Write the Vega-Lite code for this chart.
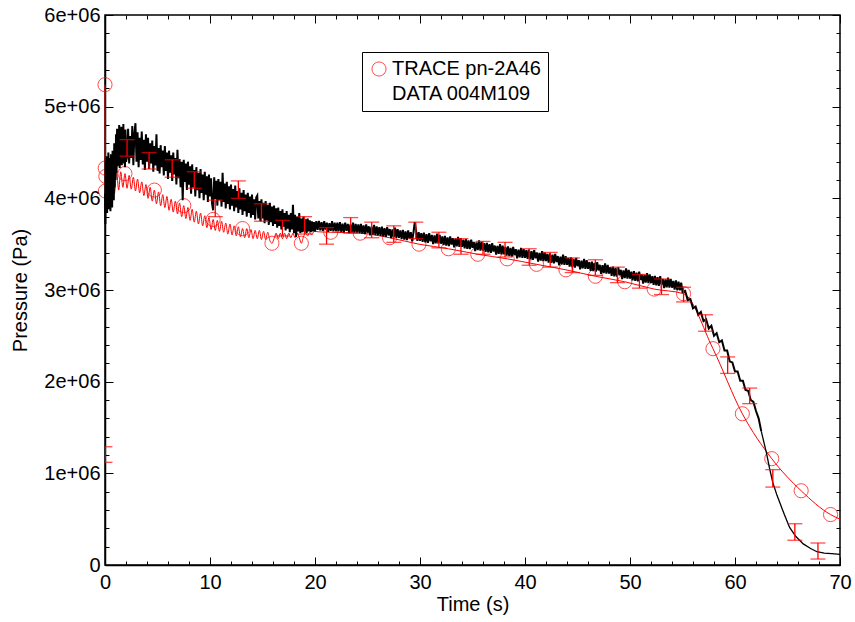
{
  "$schema": "https://vega.github.io/schema/vega-lite/v6.json",
  "width": 735,
  "height": 550,
  "autosize": "none",
  "padding": {"left": 105, "top": 15, "right": 15, "bottom": 57},
  "background": "white",
  "config": {
    "view": {"stroke": "black", "strokeWidth": 1.5},
    "axis": {"labelFont": "Liberation Sans", "labelFontSize": 20, "titleFont": "Liberation Sans", "titleFontSize": 20, "titleFontWeight": "normal", "labelColor": "black", "titleColor": "black", "tickColor": "black", "domainColor": "black", "domainWidth": 1.5, "tickWidth": 1, "grid": false, "labelOverlap": false, "labelFlush": false}
  },
  "datasets": {
    "trace": [
      {"t": 0, "p": 5.24e6}, {"t": 0.02, "p": 4.33e6}, {"t": 0.04, "p": 4.08e6}, {"t": 0.08, "p": 4.24e6},
      {"t": 0.3, "p": 4.31e6}, {"t": 0.5, "p": 4.03e6}, {"t": 0.7, "p": 4.31e6}, {"t": 0.9, "p": 4.05e6},
      {"t": 1.1, "p": 4.30e6}, {"t": 1.3, "p": 4.09e6}, {"t": 1.5, "p": 4.29e6}, {"t": 1.7, "p": 4.12e6},
      {"t": 1.9, "p": 4.27e6}, {"t": 2.1, "p": 4.11e6}, {"t": 2.3, "p": 4.25e6}, {"t": 2.5, "p": 4.10e6},
      {"t": 2.7, "p": 4.23e6}, {"t": 2.9, "p": 4.08e6}, {"t": 3.1, "p": 4.21e6}, {"t": 3.3, "p": 4.06e6},
      {"t": 3.5, "p": 4.18e6}, {"t": 3.7, "p": 4.03e6}, {"t": 3.9, "p": 4.15e6}, {"t": 4.1, "p": 4.00e6},
      {"t": 4.3, "p": 4.12e6}, {"t": 4.5, "p": 3.97e6}, {"t": 4.7, "p": 4.09e6}, {"t": 4.9, "p": 3.94e6},
      {"t": 5.1, "p": 4.07e6}, {"t": 5.3, "p": 3.92e6}, {"t": 5.5, "p": 4.04e6}, {"t": 5.7, "p": 3.90e6},
      {"t": 5.9, "p": 4.02e6}, {"t": 6.1, "p": 3.87e6}, {"t": 6.3, "p": 3.99e6}, {"t": 6.5, "p": 3.85e6},
      {"t": 6.7, "p": 3.97e6}, {"t": 6.9, "p": 3.83e6}, {"t": 7.1, "p": 3.95e6}, {"t": 7.3, "p": 3.80e6},
      {"t": 7.5, "p": 3.92e6}, {"t": 7.7, "p": 3.78e6}, {"t": 7.9, "p": 3.90e6}, {"t": 8.1, "p": 3.76e6},
      {"t": 8.3, "p": 3.88e6}, {"t": 8.5, "p": 3.74e6}, {"t": 8.7, "p": 3.86e6}, {"t": 8.9, "p": 3.72e6},
      {"t": 9.1, "p": 3.84e6}, {"t": 9.3, "p": 3.70e6}, {"t": 9.5, "p": 3.81e6}, {"t": 9.7, "p": 3.68e6},
      {"t": 9.9, "p": 3.79e6}, {"t": 10.1, "p": 3.66e6}, {"t": 10.3, "p": 3.77e6}, {"t": 10.5, "p": 3.65e6},
      {"t": 10.7, "p": 3.76e6}, {"t": 10.9, "p": 3.64e6}, {"t": 11.1, "p": 3.75e6}, {"t": 11.3, "p": 3.63e6},
      {"t": 11.5, "p": 3.73e6}, {"t": 11.7, "p": 3.61e6}, {"t": 11.9, "p": 3.72e6}, {"t": 12.1, "p": 3.60e6},
      {"t": 12.3, "p": 3.70e6}, {"t": 12.5, "p": 3.59e6}, {"t": 12.7, "p": 3.69e6}, {"t": 12.9, "p": 3.58e6},
      {"t": 13.1, "p": 3.67e6}, {"t": 13.3, "p": 3.57e6}, {"t": 13.5, "p": 3.67e6}, {"t": 13.7, "p": 3.57e6},
      {"t": 13.9, "p": 3.66e6}, {"t": 14.1, "p": 3.56e6}, {"t": 14.3, "p": 3.65e6}, {"t": 14.5, "p": 3.56e6},
      {"t": 14.7, "p": 3.65e6}, {"t": 14.9, "p": 3.55e6}, {"t": 15.1, "p": 3.64e6}, {"t": 15.3, "p": 3.55e6},
      {"t": 15.5, "p": 3.63e6}, {"t": 15.7, "p": 3.54e6}, {"t": 15.9, "p": 3.51e6}, {"t": 16.1, "p": 3.56e6},
      {"t": 16.3, "p": 3.62e6}, {"t": 16.5, "p": 3.56e6}, {"t": 16.7, "p": 3.62e6}, {"t": 16.9, "p": 3.56e6},
      {"t": 17.1, "p": 3.62e6}, {"t": 17.3, "p": 3.56e6}, {"t": 17.5, "p": 3.62e6}, {"t": 17.7, "p": 3.57e6},
      {"t": 17.9, "p": 3.62e6}, {"t": 18.1, "p": 3.57e6}, {"t": 18.3, "p": 3.62e6}, {"t": 18.5, "p": 3.57e6},
      {"t": 18.7, "p": 3.51e6}, {"t": 18.9, "p": 3.58e6}, {"t": 19.1, "p": 3.62e6}, {"t": 19.3, "p": 3.59e6},
      {"t": 19.5, "p": 3.63e6}, {"t": 19.7, "p": 3.60e6}, {"t": 19.9, "p": 3.64e6}, {"t": 20.3, "p": 3.635e6},
      {"t": 21.5, "p": 3.63e6}, {"t": 24.3, "p": 3.62e6}, {"t": 27.1, "p": 3.57e6}, {"t": 29.9, "p": 3.50e6},
      {"t": 32.7, "p": 3.45e6}, {"t": 35.5, "p": 3.39e6}, {"t": 38.3, "p": 3.34e6}, {"t": 41.1, "p": 3.28e6},
      {"t": 43.9, "p": 3.22e6}, {"t": 46.7, "p": 3.15e6}, {"t": 49.5, "p": 3.09e6}, {"t": 52.3, "p": 3.01e6},
      {"t": 55.1, "p": 2.96e6}, {"t": 57.9, "p": 2.36e6}, {"t": 60.7, "p": 1.65e6}, {"t": 63.5, "p": 1.16e6},
      {"t": 66.3, "p": 0.81e6}, {"t": 69.1, "p": 0.55e6}, {"t": 70, "p": 0.50e6}
    ],
    "markers": [
      {"t": 0, "p": 5.24e6}, {"t": 0.02, "p": 4.33e6}, {"t": 0.04, "p": 4.08e6}, {"t": 0.08, "p": 4.24e6},
      {"t": 1.9, "p": 4.27e6}, {"t": 4.7, "p": 4.09e6}, {"t": 7.5, "p": 3.92e6}, {"t": 10.3, "p": 3.77e6},
      {"t": 13.1, "p": 3.67e6}, {"t": 15.9, "p": 3.51e6}, {"t": 18.7, "p": 3.51e6}, {"t": 21.5, "p": 3.63e6},
      {"t": 24.3, "p": 3.62e6}, {"t": 27.1, "p": 3.57e6}, {"t": 29.9, "p": 3.50e6}, {"t": 32.7, "p": 3.45e6},
      {"t": 35.5, "p": 3.39e6}, {"t": 38.3, "p": 3.34e6}, {"t": 41.1, "p": 3.28e6}, {"t": 43.9, "p": 3.22e6},
      {"t": 46.7, "p": 3.15e6}, {"t": 49.5, "p": 3.09e6}, {"t": 52.3, "p": 3.01e6}, {"t": 55.1, "p": 2.96e6},
      {"t": 57.9, "p": 2.36e6}, {"t": 60.7, "p": 1.65e6}, {"t": 63.5, "p": 1.16e6}, {"t": 66.3, "p": 0.81e6},
      {"t": 69.1, "p": 0.55e6}
    ],
    "measured": [
      {"t": 0.00, "p": 4.05e6}, {"t": 0.04, "p": 3.72e6}, {"t": 0.08, "p": 4.42e6}, {"t": 0.12, "p": 3.90e6},
      {"t": 0.16, "p": 4.46e6}, {"t": 0.20, "p": 3.84e6}, {"t": 0.24, "p": 4.38e6}, {"t": 0.28, "p": 3.96e6},
      {"t": 0.32, "p": 4.50e6}, {"t": 0.36, "p": 3.88e6}, {"t": 0.40, "p": 4.44e6}, {"t": 0.44, "p": 4.02e6},
      {"t": 0.48, "p": 4.36e6}, {"t": 0.52, "p": 3.86e6}, {"t": 0.56, "p": 4.48e6}, {"t": 0.60, "p": 3.95e6},
      {"t": 0.64, "p": 4.30e6}, {"t": 0.68, "p": 3.90e6}, {"t": 0.72, "p": 4.52e6}, {"t": 0.76, "p": 4.05e6},
      {"t": 0.80, "p": 4.45e6}, {"t": 0.84, "p": 3.98e6}, {"t": 0.88, "p": 4.60e6}, {"t": 0.92, "p": 4.12e6},
      {"t": 0.96, "p": 4.55e6}, {"t": 1.00, "p": 4.20e6}, {"t": 1.05, "p": 4.70e6}, {"t": 1.10, "p": 4.28e6},
      {"t": 1.15, "p": 4.76e6}, {"t": 1.20, "p": 4.35e6}, {"t": 1.25, "p": 4.68e6}, {"t": 1.30, "p": 4.40e6},
      {"t": 1.35, "p": 4.80e6}, {"t": 1.40, "p": 4.33e6}, {"t": 1.45, "p": 4.72e6}, {"t": 1.50, "p": 4.42e6},
      {"t": 1.55, "p": 4.78e6}, {"t": 1.60, "p": 4.36e6}, {"t": 1.65, "p": 4.70e6}, {"t": 1.70, "p": 4.45e6},
      {"t": 1.75, "p": 4.81e6}, {"t": 1.80, "p": 4.38e6}, {"t": 1.85, "p": 4.66e6}, {"t": 1.90, "p": 4.34e6},
      {"t": 1.95, "p": 4.75e6}, {"t": 2.00, "p": 4.40e6},
      {"t": 2.1, "p": 4.45e6}, {"t": 2.2, "p": 4.76e6}, {"t": 2.3, "p": 4.38e6}, {"t": 2.4, "p": 4.68e6},
      {"t": 2.5, "p": 4.44e6}, {"t": 2.6, "p": 4.79e6}, {"t": 2.7, "p": 4.36e6}, {"t": 2.8, "p": 4.70e6},
      {"t": 2.9, "p": 4.82e6}, {"t": 3.0, "p": 4.40e6}, {"t": 3.1, "p": 4.72e6}, {"t": 3.2, "p": 4.34e6},
      {"t": 3.3, "p": 4.66e6}, {"t": 3.4, "p": 4.42e6}, {"t": 3.5, "p": 4.73e6}, {"t": 3.6, "p": 4.37e6},
      {"t": 3.7, "p": 4.64e6}, {"t": 3.8, "p": 4.31e6}, {"t": 3.9, "p": 4.70e6}, {"t": 4.0, "p": 4.40e6},
      {"t": 4.1, "p": 4.66e6}, {"t": 4.2, "p": 4.32e6}, {"t": 4.3, "p": 4.60e6}, {"t": 4.4, "p": 4.38e6},
      {"t": 4.5, "p": 4.63e6}, {"t": 4.6, "p": 4.29e6}, {"t": 4.7, "p": 4.57e6}, {"t": 4.8, "p": 4.36e6},
      {"t": 4.9, "p": 4.70e6}, {"t": 5.0, "p": 4.30e6}, {"t": 5.1, "p": 4.55e6}, {"t": 5.2, "p": 4.27e6},
      {"t": 5.3, "p": 4.58e6}, {"t": 5.4, "p": 4.34e6}, {"t": 5.5, "p": 4.52e6}, {"t": 5.6, "p": 4.25e6},
      {"t": 5.7, "p": 4.57e6}, {"t": 5.8, "p": 4.30e6}, {"t": 5.9, "p": 4.50e6}, {"t": 6.0, "p": 4.21e6},
      {"t": 6.1, "p": 4.52e6}, {"t": 6.2, "p": 4.28e6}, {"t": 6.3, "p": 4.47e6}, {"t": 6.4, "p": 4.19e6},
      {"t": 6.5, "p": 4.50e6}, {"t": 6.6, "p": 4.26e6}, {"t": 6.7, "p": 4.44e6}, {"t": 6.8, "p": 4.15e6},
      {"t": 6.9, "p": 4.53e6}, {"t": 7.0, "p": 4.22e6}, {"t": 7.1, "p": 4.43e6}, {"t": 7.2, "p": 4.12e6},
      {"t": 7.3, "p": 4.40e6}, {"t": 7.4, "p": 3.98e6}, {"t": 7.5, "p": 4.42e6}, {"t": 7.6, "p": 4.18e6},
      {"t": 7.7, "p": 4.38e6}, {"t": 7.8, "p": 4.09e6}, {"t": 7.9, "p": 4.40e6}, {"t": 8.0, "p": 4.15e6},
      {"t": 8.1, "p": 4.35e6}, {"t": 8.2, "p": 4.05e6}, {"t": 8.3, "p": 4.37e6}, {"t": 8.4, "p": 4.12e6},
      {"t": 8.5, "p": 4.31e6}, {"t": 8.6, "p": 4.02e6}, {"t": 8.7, "p": 4.34e6}, {"t": 8.8, "p": 4.09e6},
      {"t": 8.9, "p": 4.28e6}, {"t": 9.0, "p": 4.00e6}, {"t": 9.1, "p": 4.32e6}, {"t": 9.2, "p": 4.06e6},
      {"t": 9.3, "p": 4.26e6}, {"t": 9.4, "p": 3.98e6}, {"t": 9.5, "p": 4.29e6}, {"t": 9.6, "p": 4.04e6},
      {"t": 9.7, "p": 4.24e6}, {"t": 9.8, "p": 3.96e6}, {"t": 9.9, "p": 4.26e6}, {"t": 10.0, "p": 4.02e6},
      {"t": 10.1, "p": 4.22e6}, {"t": 10.2, "p": 3.94e6}, {"t": 10.3, "p": 3.87e6}, {"t": 10.4, "p": 4.23e6},
      {"t": 10.5, "p": 3.99e6}, {"t": 10.6, "p": 4.19e6}, {"t": 10.7, "p": 3.92e6}, {"t": 10.8, "p": 4.21e6},
      {"t": 10.9, "p": 3.98e6}, {"t": 11.0, "p": 4.18e6}, {"t": 11.1, "p": 3.91e6}, {"t": 11.2, "p": 4.28e6},
      {"t": 11.3, "p": 3.96e6}, {"t": 11.4, "p": 4.16e6}, {"t": 11.5, "p": 3.89e6}, {"t": 11.6, "p": 4.18e6},
      {"t": 11.7, "p": 3.94e6}, {"t": 11.8, "p": 4.13e6}, {"t": 11.9, "p": 3.88e6}, {"t": 12.0, "p": 4.15e6},
      {"t": 12.1, "p": 3.92e6}, {"t": 12.2, "p": 4.10e6}, {"t": 12.3, "p": 3.86e6}, {"t": 12.4, "p": 4.14e6},
      {"t": 12.5, "p": 3.90e6}, {"t": 12.6, "p": 4.08e6}, {"t": 12.7, "p": 3.84e6}, {"t": 12.8, "p": 4.11e6},
      {"t": 12.9, "p": 3.88e6}, {"t": 13.0, "p": 4.06e6}, {"t": 13.1, "p": 3.82e6}, {"t": 13.2, "p": 4.09e6},
      {"t": 13.3, "p": 3.86e6}, {"t": 13.4, "p": 4.04e6}, {"t": 13.5, "p": 3.80e6}, {"t": 13.6, "p": 4.06e6},
      {"t": 13.7, "p": 3.84e6}, {"t": 13.8, "p": 4.02e6}, {"t": 13.9, "p": 3.79e6}, {"t": 14.0, "p": 4.04e6},
      {"t": 14.1, "p": 3.82e6}, {"t": 14.2, "p": 3.99e6}, {"t": 14.3, "p": 3.77e6}, {"t": 14.4, "p": 4.01e6},
      {"t": 14.5, "p": 4.03e6}, {"t": 14.6, "p": 3.78e6}, {"t": 14.7, "p": 3.97e6}, {"t": 14.8, "p": 3.75e6},
      {"t": 14.9, "p": 3.99e6}, {"t": 15.0, "p": 3.78e6}, {"t": 15.1, "p": 3.95e6}, {"t": 15.2, "p": 3.73e6},
      {"t": 15.3, "p": 3.97e6}, {"t": 15.4, "p": 3.76e6}, {"t": 15.5, "p": 3.93e6}, {"t": 15.6, "p": 3.71e6},
      {"t": 15.7, "p": 3.95e6}, {"t": 15.8, "p": 3.74e6}, {"t": 15.9, "p": 3.91e6}, {"t": 16.0, "p": 3.70e6},
      {"t": 16.1, "p": 3.92e6}, {"t": 16.2, "p": 3.72e6}, {"t": 16.3, "p": 3.89e6}, {"t": 16.4, "p": 3.68e6},
      {"t": 16.5, "p": 3.90e6}, {"t": 16.6, "p": 3.70e6}, {"t": 16.7, "p": 3.86e6}, {"t": 16.8, "p": 3.66e6},
      {"t": 16.9, "p": 3.88e6}, {"t": 17.0, "p": 3.69e6}, {"t": 17.1, "p": 3.84e6}, {"t": 17.2, "p": 3.65e6},
      {"t": 17.3, "p": 3.86e6}, {"t": 17.4, "p": 3.67e6}, {"t": 17.5, "p": 3.82e6}, {"t": 17.6, "p": 3.63e6},
      {"t": 17.7, "p": 3.84e6}, {"t": 17.8, "p": 3.66e6}, {"t": 17.9, "p": 3.93e6}, {"t": 18.0, "p": 3.62e6},
      {"t": 18.1, "p": 3.82e6}, {"t": 18.2, "p": 3.58e6}, {"t": 18.3, "p": 3.80e6}, {"t": 18.4, "p": 3.64e6},
      {"t": 18.5, "p": 3.84e6}, {"t": 18.6, "p": 3.62e6}, {"t": 18.7, "p": 3.78e6}, {"t": 18.8, "p": 3.63e6},
      {"t": 18.9, "p": 3.80e6}, {"t": 19.0, "p": 3.64e6}, {"t": 19.1, "p": 3.77e6}, {"t": 19.2, "p": 3.62e6},
      {"t": 19.3, "p": 3.78e6}, {"t": 19.4, "p": 3.64e6}, {"t": 19.5, "p": 3.76e6}, {"t": 19.6, "p": 3.63e6},
      {"t": 19.7, "p": 3.75e6}, {"t": 19.8, "p": 3.64e6}, {"t": 19.9, "p": 3.74e6}, {"t": 20.0, "p": 3.64e6},
      {"t": 20.125, "p": 3.75e6}, {"t": 20.25, "p": 3.655e6}, {"t": 20.375, "p": 3.755e6}, {"t": 20.5, "p": 3.65e6}, {"t": 20.625, "p": 3.74e6}, {"t": 20.75, "p": 3.645e6}, {"t": 20.875, "p": 3.75e6}, {"t": 21.0, "p": 3.66e6},
      {"t": 21.125, "p": 3.735e6}, {"t": 21.25, "p": 3.635e6}, {"t": 21.375, "p": 3.73e6}, {"t": 21.5, "p": 3.645e6}, {"t": 21.625, "p": 3.75e6}, {"t": 21.75, "p": 3.64e6}, {"t": 21.875, "p": 3.735e6}, {"t": 22.0, "p": 3.64e6},
      {"t": 22.125, "p": 3.735e6}, {"t": 22.25, "p": 3.64e6}, {"t": 22.375, "p": 3.74e6}, {"t": 22.5, "p": 3.635e6}, {"t": 22.625, "p": 3.725e6}, {"t": 22.75, "p": 3.63e6}, {"t": 22.875, "p": 3.735e6}, {"t": 23.0, "p": 3.645e6},
      {"t": 23.125, "p": 3.72e6}, {"t": 23.25, "p": 3.62e6}, {"t": 23.375, "p": 3.715e6}, {"t": 23.5, "p": 3.63e6}, {"t": 23.625, "p": 3.735e6}, {"t": 23.75, "p": 3.625e6}, {"t": 23.875, "p": 3.72e6}, {"t": 24.0, "p": 3.625e6},
      {"t": 24.125, "p": 3.715e6}, {"t": 24.25, "p": 3.62e6}, {"t": 24.375, "p": 3.72e6}, {"t": 24.5, "p": 3.615e6}, {"t": 24.625, "p": 3.705e6}, {"t": 24.75, "p": 3.61e6}, {"t": 24.875, "p": 3.715e6}, {"t": 25.0, "p": 3.625e6},
      {"t": 25.125, "p": 3.695e6}, {"t": 25.25, "p": 3.595e6}, {"t": 25.375, "p": 3.69e6}, {"t": 25.5, "p": 3.605e6}, {"t": 25.625, "p": 3.71e6}, {"t": 25.75, "p": 3.60e6}, {"t": 25.875, "p": 3.695e6}, {"t": 26.0, "p": 3.60e6},
      {"t": 26.125, "p": 3.685e6}, {"t": 26.25, "p": 3.59e6}, {"t": 26.375, "p": 3.69e6}, {"t": 26.5, "p": 3.585e6}, {"t": 26.625, "p": 3.675e6}, {"t": 26.75, "p": 3.58e6}, {"t": 26.875, "p": 3.685e6}, {"t": 27.0, "p": 3.595e6},
      {"t": 27.125, "p": 3.665e6}, {"t": 27.25, "p": 3.565e6}, {"t": 27.375, "p": 3.66e6}, {"t": 27.5, "p": 3.575e6}, {"t": 27.625, "p": 3.68e6}, {"t": 27.75, "p": 3.57e6}, {"t": 27.875, "p": 3.665e6}, {"t": 28.0, "p": 3.57e6},
      {"t": 28.125, "p": 3.65e6}, {"t": 28.25, "p": 3.555e6}, {"t": 28.375, "p": 3.655e6}, {"t": 28.5, "p": 3.55e6}, {"t": 28.625, "p": 3.64e6}, {"t": 28.75, "p": 3.545e6}, {"t": 28.875, "p": 3.65e6}, {"t": 29.0, "p": 3.56e6},
      {"t": 29.125, "p": 3.63e6}, {"t": 29.25, "p": 3.53e6}, {"t": 29.375, "p": 3.625e6}, {"t": 29.5, "p": 3.74e6}, {"t": 29.625, "p": 3.645e6}, {"t": 29.75, "p": 3.535e6}, {"t": 29.875, "p": 3.63e6}, {"t": 30.0, "p": 3.535e6},
      {"t": 30.125, "p": 3.62e6}, {"t": 30.25, "p": 3.525e6}, {"t": 30.375, "p": 3.625e6}, {"t": 30.5, "p": 3.52e6}, {"t": 30.625, "p": 3.61e6}, {"t": 30.75, "p": 3.515e6}, {"t": 30.875, "p": 3.62e6}, {"t": 31.0, "p": 3.53e6},
      {"t": 31.125, "p": 3.60e6}, {"t": 31.25, "p": 3.50e6}, {"t": 31.375, "p": 3.595e6}, {"t": 31.5, "p": 3.51e6}, {"t": 31.625, "p": 3.615e6}, {"t": 31.75, "p": 3.505e6}, {"t": 31.875, "p": 3.60e6}, {"t": 32.0, "p": 3.505e6},
      {"t": 32.125, "p": 3.585e6}, {"t": 32.25, "p": 3.49e6}, {"t": 32.375, "p": 3.59e6}, {"t": 32.5, "p": 3.485e6}, {"t": 32.625, "p": 3.575e6}, {"t": 32.75, "p": 3.48e6}, {"t": 32.875, "p": 3.585e6}, {"t": 33.0, "p": 3.495e6},
      {"t": 33.125, "p": 3.565e6}, {"t": 33.25, "p": 3.465e6}, {"t": 33.375, "p": 3.56e6}, {"t": 33.5, "p": 3.475e6}, {"t": 33.625, "p": 3.58e6}, {"t": 33.75, "p": 3.47e6}, {"t": 33.875, "p": 3.565e6}, {"t": 34.0, "p": 3.47e6},
      {"t": 34.125, "p": 3.55e6}, {"t": 34.25, "p": 3.455e6}, {"t": 34.375, "p": 3.555e6}, {"t": 34.5, "p": 3.45e6}, {"t": 34.625, "p": 3.54e6}, {"t": 34.75, "p": 3.445e6}, {"t": 34.875, "p": 3.55e6}, {"t": 35.0, "p": 3.46e6},
      {"t": 35.125, "p": 3.525e6}, {"t": 35.25, "p": 3.425e6}, {"t": 35.375, "p": 3.52e6}, {"t": 35.5, "p": 3.435e6}, {"t": 35.625, "p": 3.54e6}, {"t": 35.75, "p": 3.43e6}, {"t": 35.875, "p": 3.525e6}, {"t": 36.0, "p": 3.43e6},
      {"t": 36.125, "p": 3.51e6}, {"t": 36.25, "p": 3.415e6}, {"t": 36.375, "p": 3.515e6}, {"t": 36.5, "p": 3.41e6}, {"t": 36.625, "p": 3.50e6}, {"t": 36.75, "p": 3.405e6}, {"t": 36.875, "p": 3.51e6}, {"t": 37.0, "p": 3.42e6},
      {"t": 37.125, "p": 3.485e6}, {"t": 37.25, "p": 3.385e6}, {"t": 37.375, "p": 3.48e6}, {"t": 37.5, "p": 3.395e6}, {"t": 37.625, "p": 3.50e6}, {"t": 37.75, "p": 3.39e6}, {"t": 37.875, "p": 3.485e6}, {"t": 38.0, "p": 3.39e6},
      {"t": 38.125, "p": 3.47e6}, {"t": 38.25, "p": 3.375e6}, {"t": 38.375, "p": 3.475e6}, {"t": 38.5, "p": 3.37e6}, {"t": 38.625, "p": 3.46e6}, {"t": 38.75, "p": 3.365e6}, {"t": 38.875, "p": 3.47e6}, {"t": 39.0, "p": 3.38e6},
      {"t": 39.125, "p": 3.445e6}, {"t": 39.25, "p": 3.345e6}, {"t": 39.375, "p": 3.44e6}, {"t": 39.5, "p": 3.355e6}, {"t": 39.625, "p": 3.46e6}, {"t": 39.75, "p": 3.35e6}, {"t": 39.875, "p": 3.445e6}, {"t": 40.0, "p": 3.35e6},
      {"t": 40.125, "p": 3.435e6}, {"t": 40.25, "p": 3.34e6}, {"t": 40.375, "p": 3.44e6}, {"t": 40.5, "p": 3.335e6}, {"t": 40.625, "p": 3.425e6}, {"t": 40.75, "p": 3.33e6}, {"t": 40.875, "p": 3.435e6}, {"t": 41.0, "p": 3.345e6},
      {"t": 41.125, "p": 3.41e6}, {"t": 41.25, "p": 3.31e6}, {"t": 41.375, "p": 3.405e6}, {"t": 41.5, "p": 3.32e6}, {"t": 41.625, "p": 3.425e6}, {"t": 41.75, "p": 3.315e6}, {"t": 41.875, "p": 3.41e6}, {"t": 42.0, "p": 3.315e6},
      {"t": 42.125, "p": 3.395e6}, {"t": 42.25, "p": 3.30e6}, {"t": 42.375, "p": 3.40e6}, {"t": 42.5, "p": 3.295e6}, {"t": 42.625, "p": 3.385e6}, {"t": 42.75, "p": 3.29e6}, {"t": 42.875, "p": 3.395e6}, {"t": 43.0, "p": 3.305e6},
      {"t": 43.125, "p": 3.37e6}, {"t": 43.25, "p": 3.27e6}, {"t": 43.375, "p": 3.365e6}, {"t": 43.5, "p": 3.28e6}, {"t": 43.625, "p": 3.385e6}, {"t": 43.75, "p": 3.275e6}, {"t": 43.875, "p": 3.37e6}, {"t": 44.0, "p": 3.275e6},
      {"t": 44.125, "p": 3.35e6}, {"t": 44.25, "p": 3.255e6}, {"t": 44.375, "p": 3.355e6}, {"t": 44.5, "p": 3.25e6}, {"t": 44.625, "p": 3.34e6}, {"t": 44.75, "p": 3.245e6}, {"t": 44.875, "p": 3.35e6}, {"t": 45.0, "p": 3.26e6},
      {"t": 45.125, "p": 3.325e6}, {"t": 45.25, "p": 3.225e6}, {"t": 45.375, "p": 3.32e6}, {"t": 45.5, "p": 3.235e6}, {"t": 45.625, "p": 3.34e6}, {"t": 45.75, "p": 3.23e6}, {"t": 45.875, "p": 3.325e6}, {"t": 46.0, "p": 3.23e6},
      {"t": 46.125, "p": 3.305e6}, {"t": 46.25, "p": 3.21e6}, {"t": 46.375, "p": 3.31e6}, {"t": 46.5, "p": 3.205e6}, {"t": 46.625, "p": 3.295e6}, {"t": 46.75, "p": 3.20e6}, {"t": 46.875, "p": 3.305e6}, {"t": 47.0, "p": 3.215e6},
      {"t": 47.125, "p": 3.275e6}, {"t": 47.25, "p": 3.175e6}, {"t": 47.375, "p": 3.27e6}, {"t": 47.5, "p": 3.185e6}, {"t": 47.625, "p": 3.29e6}, {"t": 47.75, "p": 3.18e6}, {"t": 47.875, "p": 3.275e6}, {"t": 48.0, "p": 3.18e6},
      {"t": 48.125, "p": 3.25e6}, {"t": 48.25, "p": 3.155e6}, {"t": 48.375, "p": 3.255e6}, {"t": 48.5, "p": 3.15e6}, {"t": 48.625, "p": 3.24e6}, {"t": 48.75, "p": 3.145e6}, {"t": 48.875, "p": 3.25e6}, {"t": 49.0, "p": 3.16e6},
      {"t": 49.125, "p": 3.22e6}, {"t": 49.25, "p": 3.12e6}, {"t": 49.375, "p": 3.215e6}, {"t": 49.5, "p": 3.13e6}, {"t": 49.625, "p": 3.235e6}, {"t": 49.75, "p": 3.125e6}, {"t": 49.875, "p": 3.22e6}, {"t": 50.0, "p": 3.125e6},
      {"t": 50.125, "p": 3.20e6}, {"t": 50.25, "p": 3.105e6}, {"t": 50.375, "p": 3.205e6}, {"t": 50.5, "p": 3.10e6}, {"t": 50.625, "p": 3.19e6}, {"t": 50.75, "p": 3.095e6}, {"t": 50.875, "p": 3.20e6}, {"t": 51.0, "p": 3.11e6},
      {"t": 51.125, "p": 3.17e6}, {"t": 51.25, "p": 3.07e6}, {"t": 51.375, "p": 3.165e6}, {"t": 51.5, "p": 3.08e6}, {"t": 51.625, "p": 3.185e6}, {"t": 51.75, "p": 3.075e6}, {"t": 51.875, "p": 3.17e6}, {"t": 52.0, "p": 3.075e6},
      {"t": 52.125, "p": 3.15e6}, {"t": 52.25, "p": 3.055e6}, {"t": 52.375, "p": 3.155e6}, {"t": 52.5, "p": 3.05e6}, {"t": 52.625, "p": 3.14e6}, {"t": 52.75, "p": 3.045e6}, {"t": 52.875, "p": 3.15e6}, {"t": 53.0, "p": 3.06e6},
      {"t": 53.125, "p": 3.12e6}, {"t": 53.25, "p": 3.02e6}, {"t": 53.375, "p": 3.115e6}, {"t": 53.5, "p": 3.03e6}, {"t": 53.625, "p": 3.135e6}, {"t": 53.75, "p": 3.025e6}, {"t": 53.875, "p": 3.12e6}, {"t": 54.0, "p": 3.025e6},
      {"t": 54.125, "p": 3.10e6}, {"t": 54.25, "p": 3.005e6}, {"t": 54.375, "p": 3.105e6}, {"t": 54.5, "p": 3.00e6}, {"t": 54.625, "p": 3.09e6}, {"t": 54.75, "p": 2.995e6}, {"t": 54.875, "p": 3.08e6}, {"t": 55.0, "p": 2.98e6},
      {"t": 55.25, "p": 2.99e6}, {"t": 55.5, "p": 2.89e6}, {"t": 55.75, "p": 2.90e6},
      {"t": 56.0, "p": 2.80e6}, {"t": 56.25, "p": 2.82e6}, {"t": 56.5, "p": 2.73e6}, {"t": 56.75, "p": 2.76e6},
      {"t": 57.0, "p": 2.66e6}, {"t": 57.25, "p": 2.68e6}, {"t": 57.5, "p": 2.58e6}, {"t": 57.75, "p": 2.61e6},
      {"t": 58.0, "p": 2.50e6}, {"t": 58.25, "p": 2.53e6}, {"t": 58.5, "p": 2.43e6}, {"t": 58.75, "p": 2.45e6},
      {"t": 59.0, "p": 2.34e6}, {"t": 59.25, "p": 2.34e6}, {"t": 59.5, "p": 2.22e6}, {"t": 59.75, "p": 2.21e6},
      {"t": 60.0, "p": 2.11e6}, {"t": 60.25, "p": 2.11e6}, {"t": 60.5, "p": 2.01e6}, {"t": 60.75, "p": 2.01e6},
      {"t": 61.0, "p": 1.91e6}, {"t": 61.25, "p": 1.90e6}, {"t": 61.5, "p": 1.80e6}, {"t": 61.75, "p": 1.78e6},
      {"t": 62.0, "p": 1.68e6}, {"t": 62.25, "p": 1.60e6}, {"t": 62.5, "p": 1.46e6}, {"t": 62.75, "p": 1.34e6},
      {"t": 63.0, "p": 1.22e6}, {"t": 63.3, "p": 1.05e6}, {"t": 63.6, "p": 0.90e6}, {"t": 64.0, "p": 0.76e6},
      {"t": 64.3, "p": 0.67e6}, {"t": 64.7, "p": 0.55e6}, {"t": 65.2, "p": 0.41e6}, {"t": 65.8, "p": 0.31e6},
      {"t": 66.5, "p": 0.23e6}, {"t": 67.2, "p": 0.18e6}, {"t": 67.8, "p": 0.145e6}, {"t": 68.5, "p": 0.13e6},
      {"t": 69.2, "p": 0.125e6}, {"t": 70.0, "p": 0.115e6}
    ],
    "errors": [
      {"t": 0.0, "lo": 1.12e6, "hi": 1.29e6}, {"t": 2.1, "lo": 4.46e6, "hi": 4.64e6},
      {"t": 4.2, "lo": 4.32e6, "hi": 4.50e6}, {"t": 6.4, "lo": 4.23e6, "hi": 4.42e6},
      {"t": 8.5, "lo": 4.11e6, "hi": 4.29e6}, {"t": 10.5, "lo": 3.80e6, "hi": 3.98e6},
      {"t": 12.7, "lo": 4.00e6, "hi": 4.19e6}, {"t": 14.9, "lo": 3.75e6, "hi": 3.94e6},
      {"t": 16.9, "lo": 3.59e6, "hi": 3.76e6}, {"t": 19.0, "lo": 3.61e6, "hi": 3.80e6},
      {"t": 21.1, "lo": 3.50e6, "hi": 3.68e6}, {"t": 23.4, "lo": 3.62e6, "hi": 3.79e6},
      {"t": 25.4, "lo": 3.57e6, "hi": 3.74e6}, {"t": 27.5, "lo": 3.52e6, "hi": 3.70e6},
      {"t": 29.6, "lo": 3.56e6, "hi": 3.74e6}, {"t": 31.8, "lo": 3.46e6, "hi": 3.63e6},
      {"t": 33.9, "lo": 3.39e6, "hi": 3.56e6}, {"t": 36.0, "lo": 3.39e6, "hi": 3.53e6},
      {"t": 38.1, "lo": 3.36e6, "hi": 3.52e6}, {"t": 40.4, "lo": 3.27e6, "hi": 3.45e6},
      {"t": 42.4, "lo": 3.25e6, "hi": 3.41e6}, {"t": 44.5, "lo": 3.19e6, "hi": 3.35e6},
      {"t": 46.7, "lo": 3.16e6, "hi": 3.33e6}, {"t": 48.8, "lo": 3.08e6, "hi": 3.25e6},
      {"t": 50.9, "lo": 3.02e6, "hi": 3.17e6}, {"t": 53.0, "lo": 2.95e6, "hi": 3.12e6},
      {"t": 55.1, "lo": 2.87e6, "hi": 3.03e6}, {"t": 57.2, "lo": 2.55e6, "hi": 2.73e6},
      {"t": 59.3, "lo": 2.09e6, "hi": 2.27e6}, {"t": 61.4, "lo": 1.76e6, "hi": 1.93e6},
      {"t": 63.6, "lo": 0.85e6, "hi": 1.04e6}, {"t": 65.7, "lo": 0.27e6, "hi": 0.45e6},
      {"t": 67.9, "lo": 0.065e6, "hi": 0.24e6}
    ]
  },
  "layer": [
    {
      "data": {"name": "trace"},
      "mark": {"type": "line", "color": "#ff0000", "strokeWidth": 1, "interpolate": "monotone"},
      "encoding": {
        "x": {"field": "t", "type": "quantitative", "scale": {"domain": [0, 70], "nice": false},
          "axis": {"orient": "top", "title": null, "labels": false, "domain": false, "tickSize": -8,
            "values": [0, 10, 20, 30, 40, 50, 60, 70]}},
        "y": {"field": "p", "type": "quantitative", "scale": {"domain": [0, 6000000], "nice": false},
          "axis": {"orient": "right", "title": null, "labels": false, "domain": false, "tickSize": -8,
            "values": [0, 1000000, 2000000, 3000000, 4000000, 5000000, 6000000]}}
      }
    },
    {
      "data": {"name": "markers"},
      "mark": {"type": "point", "shape": "circle", "filled": false, "size": 200, "strokeWidth": 1},
      "encoding": {
        "x": {"field": "t", "type": "quantitative",
          "axis": {"orient": "top", "title": null, "labels": false, "domain": false, "tickSize": -4,
            "values": [2,4,6,8,12,14,16,18,22,24,26,28,32,34,36,38,42,44,46,48,52,54,56,58,62,64,66,68]}},
        "y": {"field": "p", "type": "quantitative",
          "axis": {"orient": "right", "title": null, "labels": false, "domain": false, "tickSize": -4,
            "values": [200000,400000,600000,800000,1200000,1400000,1600000,1800000,2200000,2400000,2600000,2800000,3200000,3400000,3600000,3800000,4200000,4400000,4600000,4800000,5200000,5400000,5600000,5800000]}},
        "color": {"datum": "TRACE pn-2A46", "type": "nominal",
          "scale": {"domain": ["TRACE pn-2A46", "DATA 004M109"], "range": ["#ff0000", "transparent"]},
          "legend": {"orient": "none", "legendX": 257, "legendY": 37, "title": null, "strokeColor": "black", "fillColor": "white", "padding": 7, "labelFont": "Liberation Sans", "labelFontSize": 20, "labelColor": "black", "symbolSize": 200, "symbolStrokeWidth": 1, "symbolType": "circle", "symbolFillColor": "transparent", "rowPadding": 5, "labelOffset": 3, "labelLimit": 300}}
      }
    },
    {
      "data": {"name": "measured"},
      "transform": [{"filter": "datum.t <= 62.5"}],
      "mark": {"type": "line", "color": "black", "strokeWidth": 2},
      "encoding": {
        "x": {"field": "t", "type": "quantitative", "title": "Time (s)",
          "axis": {"orient": "bottom", "labelPadding": 15, "titlePadding": 2, "tickSize": -8,
            "values": [0, 10, 20, 30, 40, 50, 60, 70]}},
        "y": {"field": "p", "type": "quantitative", "title": "Pressure (Pa)",
          "axis": {"orient": "left", "labelPadding": 13, "titlePadding": 13, "tickSize": -8,
            "values": [0, 1000000, 2000000, 3000000, 4000000, 5000000, 6000000],
            "labelExpr": "datum.value === 0 ? '0' : (datum.value / 1000000) + 'e+06'"}}
      }
    },
    {
      "data": {"name": "measured"},
      "transform": [{"filter": "datum.t >= 62.5"}],
      "mark": {"type": "line", "color": "black", "strokeWidth": 1.3},
      "encoding": {
        "x": {"field": "t", "type": "quantitative", "axis": null},
        "y": {"field": "p", "type": "quantitative", "axis": null}
      }
    },
    {
      "data": {"name": "errors"},
      "mark": {"type": "rule", "color": "#ff0000", "strokeWidth": 1.3, "clip": true},
      "encoding": {
        "x": {"field": "t", "type": "quantitative",
          "axis": {"orient": "bottom", "title": null, "labels": false, "domain": false, "tickSize": -4,
            "values": [2,4,6,8,12,14,16,18,22,24,26,28,32,34,36,38,42,44,46,48,52,54,56,58,62,64,66,68]}},
        "y": {"field": "lo", "type": "quantitative",
          "axis": {"orient": "left", "title": null, "labels": false, "domain": false, "tickSize": -4,
            "values": [200000,400000,600000,800000,1200000,1400000,1600000,1800000,2200000,2400000,2600000,2800000,3200000,3400000,3600000,3800000,4200000,4400000,4600000,4800000,5200000,5400000,5600000,5800000]}},
        "y2": {"field": "hi"}
      }
    },
    {
      "data": {"name": "errors"},
      "mark": {"type": "tick", "orient": "horizontal", "color": "#ff0000", "size": 15, "thickness": 1.3, "clip": true},
      "encoding": {
        "x": {"field": "t", "type": "quantitative", "axis": null},
        "y": {"field": "lo", "type": "quantitative", "axis": null}
      }
    },
    {
      "data": {"name": "errors"},
      "mark": {"type": "tick", "orient": "horizontal", "color": "#ff0000", "size": 15, "thickness": 1.3, "clip": true},
      "encoding": {
        "x": {"field": "t", "type": "quantitative", "axis": null},
        "y": {"field": "hi", "type": "quantitative", "axis": null}
      }
    }
  ],
  "resolve": {"axis": {"x": "independent", "y": "independent"}}
}
